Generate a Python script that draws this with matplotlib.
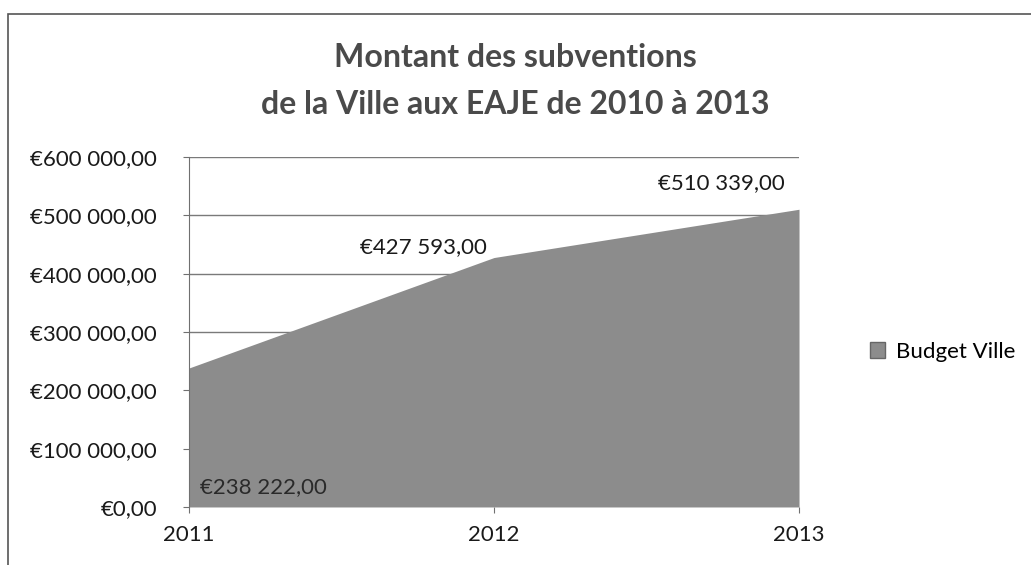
import matplotlib.pyplot as plt
from matplotlib.patches import Rectangle, Patch
from matplotlib.ticker import FuncFormatter

# donnees du graphique
annees = ['2011', '2012', '2013']
budget_ville = [238222.00, 427593.00, 510339.00]
etiquettes = ['€238 222,00', '€427 593,00', '€510 339,00']
graduations = [0, 100000, 200000, 300000, 400000, 500000, 600000]

plt.rcParams['font.family'] = ['Lato', 'DejaVu Sans']

GRIS = '#8c8c8c'


def format_euro(v, pos=None):
    entier = f"{int(v):,}".replace(",", " ")
    return f"€{entier},00"


fig = plt.figure(figsize=(10.31, 5.65), dpi=100)
ax = fig.add_axes([0.1833, 0.1027, 0.5917, 0.6195])

x = list(range(len(annees)))
ax.fill_between(x, budget_ville, 0, color=GRIS, linewidth=0)

ax.set_xlim(0, len(annees) - 1)
ax.set_ylim(0, 600000)
ax.set_yticks(graduations)
ax.yaxis.set_major_formatter(FuncFormatter(format_euro))
ax.set_xticks(x)
ax.set_xticklabels(annees)
ax.grid(axis='y', color='#7a7a7a', linewidth=1)
ax.set_axisbelow(True)
for s in ['top', 'right', 'bottom']:
    ax.spines[s].set_visible(False)
ax.spines['left'].set_color('#707070')
ax.tick_params(axis='both', labelsize=16, labelcolor='#1a1a1a', color='#707070', length=4)
ax.tick_params(axis='x', pad=9)
ax.tick_params(axis='y', pad=19)

# etiquettes de donnees
ax.annotate(etiquettes[0], (x[0], 0), xytext=(11, 20), textcoords='offset pixels',
            ha='left', va='center', fontsize=16, color='#2a2a2a')
ax.annotate(etiquettes[1], (x[1], budget_ville[1]), xytext=(-7, 10), textcoords='offset pixels',
            ha='right', va='center', fontsize=16, color='#1a1a1a')
ax.annotate(etiquettes[2], (x[2], budget_ville[2]), xytext=(-14, 26), textcoords='offset pixels',
            ha='right', va='center', fontsize=16, color='#1a1a1a')

fig.text(0.5, 0.857, "Montant des subventions\nde la Ville aux EAJE de 2010 à 2013",
         ha='center', va='center', fontsize=23, fontweight='bold', color='#4a4a4a',
         linespacing=1.75)

fig.legend(handles=[Patch(facecolor=GRIS, edgecolor='#666666', label='Budget Ville')],
           loc='center left', bbox_to_anchor=(0.824, 0.377), frameon=False,
           fontsize=16, handlelength=0.7, handleheight=0.7, handletextpad=0.5)

# cadre du graphique
fig.patches.append(Rectangle((0.008, -0.05), 1.2, 1.025, transform=fig.transFigure,
                             fill=False, edgecolor='#555555', linewidth=1.2))

fig.savefig('out.png', dpi=100)
